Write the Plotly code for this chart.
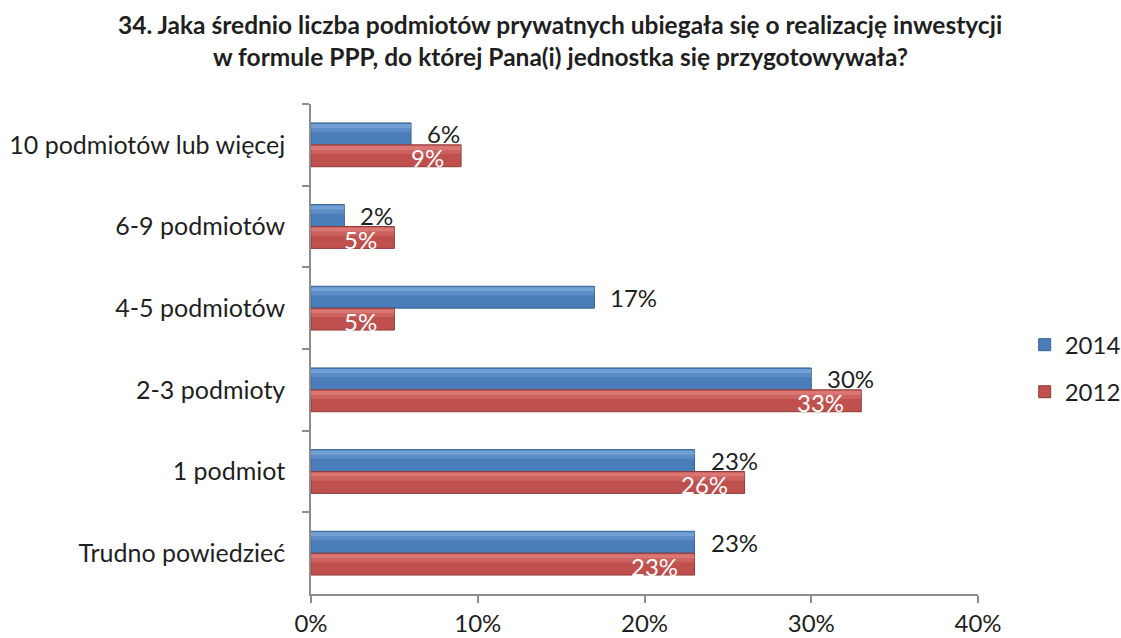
import plotly.graph_objects as go

# Survey answers (percent of respondents)
categories = [
    "10 podmiotów lub więcej",
    "6-9 podmiotów",
    "4-5 podmiotów",
    "2-3 podmioty",
    "1 podmiot",
    "Trudno powiedzieć",
]
values_2014 = [6, 2, 17, 30, 23, 23]
values_2012 = [9, 5, 5, 33, 26, 23]

x_tick_values = [0, 10, 20, 30, 40]
x_tick_labels = ["0%", "10%", "20%", "30%", "40%"]

title_lines = [
    "34. Jaka średnio liczba podmiotów prywatnych ubiegała się o realizację inwestycji",
    "w formule PPP, do której Pana(i) jednostka się przygotowywała?",
]

FONT = "Lato"
TEXT = "#1f1f1f"
AXIS = "#8c8c8c"

BAR_W = 0.268
series = [
    # name, values, fill, highlight, edge, offset, legend
    ("2014", values_2014, "#4a7ebb", "rgba(150,188,235,0.55)", "#3a6390", -BAR_W, "legend"),
    ("2012", values_2012, "#c0504d", "rgba(238,150,148,0.55)", "#8e3b39", 0.0, "legend2"),
]

fig = go.Figure()

for name, vals, fill, light, edge, off, leg in series:
    # main bar body
    fig.add_trace(go.Bar(
        y=categories, x=vals, orientation="h", name=name,
        marker=dict(color=fill, line=dict(color=edge, width=1)),
        offset=off, width=BAR_W, legend=leg, showlegend=True,
        hoverinfo="skip",
    ))
    # soft upper bevel highlight
    fig.add_trace(go.Bar(
        y=categories, x=vals, orientation="h", name=name,
        marker=dict(color=light, line=dict(width=0)),
        offset=off + 0.012, width=0.05, showlegend=False,
        hoverinfo="skip",
    ))
    fig.add_trace(go.Bar(
        y=categories, x=vals, orientation="h", name=name,
        marker=dict(color=light.replace("0.55", "0.25"), line=dict(width=0)),
        offset=off + 0.062, width=0.05, showlegend=False,
        hoverinfo="skip",
    ))

annotations = []
# two-line bold heading, centred on the page
for text, ypos in zip(title_lines, [1.163, 1.096]):
    annotations.append(dict(
        x=0.374, y=ypos, xref="paper", yref="paper", text=f"<b>{text}</b>",
        showarrow=False, xanchor="center", yanchor="middle",
        font=dict(family=FONT, size=24.5, color=TEXT),
    ))
for cat, v in zip(categories, values_2014):
    annotations.append(dict(
        x=v, y=cat, xref="x", yref="y", text=f"{v}%", showarrow=False,
        xanchor="left", yanchor="middle", xshift=14, yshift=11,
        font=dict(family=FONT, size=24, color=TEXT),
    ))
for cat, v in zip(categories, values_2012):
    annotations.append(dict(
        x=v, y=cat, xref="x", yref="y", text=f"{v}%", showarrow=False,
        xanchor="right", yanchor="middle", xshift=-15, yshift=-13,
        font=dict(family=FONT, size=24, color="white"),
    ))

fig.update_layout(
    width=1121, height=638,
    paper_bgcolor="white", plot_bgcolor="white",
    margin=dict(l=311, r=143, t=104, b=44, autoexpand=False),
    barmode="overlay",
    font=dict(family=FONT, size=24, color=TEXT),
    xaxis=dict(
        range=[0, 40], tickvals=x_tick_values, ticktext=x_tick_labels,
        showgrid=False, zeroline=False, showline=True, linecolor=AXIS, linewidth=1.5,
        ticks="outside", ticklen=7, tickcolor=AXIS, tickwidth=1.5,
        ticklabelstandoff=0,
        tickfont=dict(family=FONT, size=24, color=TEXT),
    ),
    yaxis=dict(
        type="category", categoryorder="array", categoryarray=categories,
        range=[5.5, -0.5], showgrid=False, zeroline=False,
        showline=True, linecolor=AXIS, linewidth=1.5,
        ticks="outside", ticklen=7, tickcolor=AXIS, tickwidth=1.5,
        tickson="boundaries", ticklabelstandoff=19,
        tickfont=dict(family=FONT, size=25, color=TEXT),
    ),
    legend=dict(x=1.07, y=0.508, xanchor="left", yanchor="middle",
                font=dict(family=FONT, size=24, color=TEXT), bgcolor="rgba(0,0,0,0)"),
    legend2=dict(x=1.07, y=0.412, xanchor="left", yanchor="middle",
                 font=dict(family=FONT, size=24, color=TEXT), bgcolor="rgba(0,0,0,0)"),
    annotations=annotations,
    showlegend=True,
)

fig.write_html("out.html")
